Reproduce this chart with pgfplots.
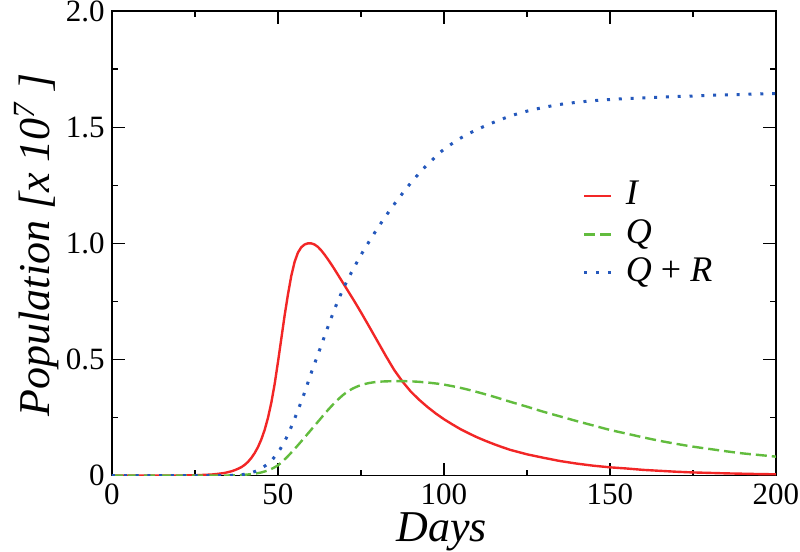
\documentclass[border=0pt]{standalone}
\usepackage{fontspec}
\setmainfont{Liberation Serif}
\usepackage{pgfplots}
\pgfplotsset{compat=1.18}
\definecolor{cI}{RGB}{242,38,38}
\definecolor{cQ}{RGB}{98,188,62}
\definecolor{cR}{RGB}{36,88,188}
\begin{document}
\begin{tikzpicture}
\useasboundingbox (0,0) rectangle (400pt,276pt);
\begin{axis}[
  at={(56pt,38.15pt)}, anchor=south west,
  scale only axis, width=332pt, height=232.35pt,
  xmin=0, xmax=200, ymin=0, ymax=2,
  xtick={0,50,100,150,200}, xticklabels={0,50,100,150,200},
  ytick={0,0.5,1,1.5,2}, yticklabels={0,0.5,1.0,1.5,2.0},
  minor xtick={25,75,125,175}, minor ytick={0.25,0.75,1.25,1.75},
  xtick pos=both, ytick pos=both, xticklabel pos=bottom, yticklabel pos=left,
  tick align=inside,
  major tick length=6.5pt, minor tick length=3pt,
  every tick/.style={black, line width=0.6pt},
  axis line style={line width=0.6pt},
  ticklabel style={font=\fontsize{15.5}{18}\selectfont, inner sep=0pt},
  xticklabel style={yshift=-3.8pt},
  yticklabel style={xshift=-3.5pt},
  xlabel={\textit{Days}},
  ylabel={\textit{Population [x 10\textsuperscript{7} ]}},
  label style={font=\fontsize{22}{26}\selectfont},
  xlabel style={at={(axis description cs:0.4965,-0.142)}, anchor=base},
  ylabel style={at={(axis description cs:-0.0934,0.4965)}, anchor=base},
  legend style={draw=none, fill=none, inner sep=0pt, outer sep=0pt,
    at={(axis description cs:0.709,0.641)}, anchor=north west,
    font=\fontsize{18}{20}\selectfont,
    nodes={inner sep=0pt, text height=13.5pt, text depth=4.5pt},
    row sep=1.25pt, column sep=6.8pt},
  legend cell align=left,
  legend image code/.code={\draw[#1] (0pt,0pt) -- (13.3pt,0pt);},
]
\addplot[cI, line width=1.2pt] coordinates {
(0,0) (10,0.0001) (20,0.0007) (25,0.0018)
(30,0.005) (32,0.008) (34,0.012) (36,0.019) (37,0.024) (38,0.030) (39,0.037)
(40,0.047) (41,0.060) (42,0.077) (43,0.098) (44,0.124) (45,0.157) (46,0.198)
(47,0.250) (48,0.315) (49,0.395) (50,0.49) (51,0.59) (52,0.69) (53,0.78)
(54,0.86) (55,0.92) (56,0.96) (57,0.983) (58,0.995) (59,1.0) (60,1.0)
(61,0.995) (62,0.985) (63,0.970) (64,0.952) (65,0.932) (66,0.911) (67,0.889)
(68,0.866) (69,0.843) (70,0.820) (71,0.797) (72,0.774) (73,0.751) (74,0.727)
(75,0.703) (77.5,0.641) (80,0.578) (82.5,0.515) (85,0.455) (87.5,0.405)
(90,0.362) (92.5,0.327) (95,0.296) (97.5,0.268) (100,0.243) (102.5,0.221)
(105,0.200) (107.5,0.182) (110,0.165) (112.5,0.150) (115,0.136) (117.5,0.123)
(120,0.111) (125,0.092) (130,0.077) (135,0.063) (140,0.052) (145,0.043)
(150,0.036) (155,0.031) (160,0.025) (165,0.021) (170,0.017) (175,0.014)
(180,0.012) (185,0.010) (190,0.0085) (195,0.007) (200,0.006)};
\addlegendentry{\textit{I}}
\addplot[cQ, line width=1.2pt, dash pattern=on 5.5pt off 2.5pt, smooth] coordinates {
(0,0) (10,0) (20,0.0001) (25,0.0002)
(30,0.0005) (35,0.001) (40,0.004) (42.5,0.008) (45,0.014) (47.5,0.026)
(50,0.045) (52.5,0.077) (55,0.115) (57.5,0.156) (60,0.198) (62.5,0.240)
(65,0.282) (67.5,0.320) (70,0.352) (72.5,0.375) (75,0.390) (77.5,0.399)
(80,0.404) (82.5,0.406) (85,0.407) (87.5,0.407) (90,0.406) (92.5,0.404)
(95,0.401) (97.5,0.397) (100,0.392) (105,0.378) (110,0.36) (115,0.34)
(120,0.318) (125,0.297) (130,0.275) (135,0.255) (140,0.235) (145,0.216)
(150,0.197) (155,0.181) (160,0.165) (165,0.150) (170,0.137) (175,0.125)
(180,0.115) (185,0.105) (190,0.096) (195,0.089) (200,0.082)};
\addlegendentry{\textit{Q}}
\addplot[cR, line width=1.5pt, dash pattern=on 1.5pt off 4.4pt, smooth] coordinates {
(0,0) (10,0) (20,0.0001) (25,0.0002)
(30,0.0005) (35,0.001) (40,0.006) (42.5,0.015) (45,0.032) (47.5,0.058)
(50,0.1) (52.5,0.162) (55,0.245) (57.5,0.338) (60,0.442) (62.5,0.54)
(65,0.639) (67.5,0.733) (70,0.815) (72.5,0.885) (75,0.95) (77.5,1.009)
(80,1.065) (82.5,1.118) (85,1.168) (87.5,1.215) (90,1.26) (92.5,1.301)
(95,1.339) (97.5,1.373) (100,1.405) (105,1.453) (110,1.49) (115,1.521)
(120,1.548) (125,1.569) (130,1.585) (135,1.598) (140,1.607) (145,1.614)
(150,1.619) (155,1.623) (160,1.626) (165,1.629) (170,1.632) (175,1.634)
(180,1.637) (185,1.639) (190,1.641) (195,1.643) (200,1.645)};
\addlegendentry{\textit{Q} + \textit{R}}
\end{axis}
\end{tikzpicture}
\end{document}
